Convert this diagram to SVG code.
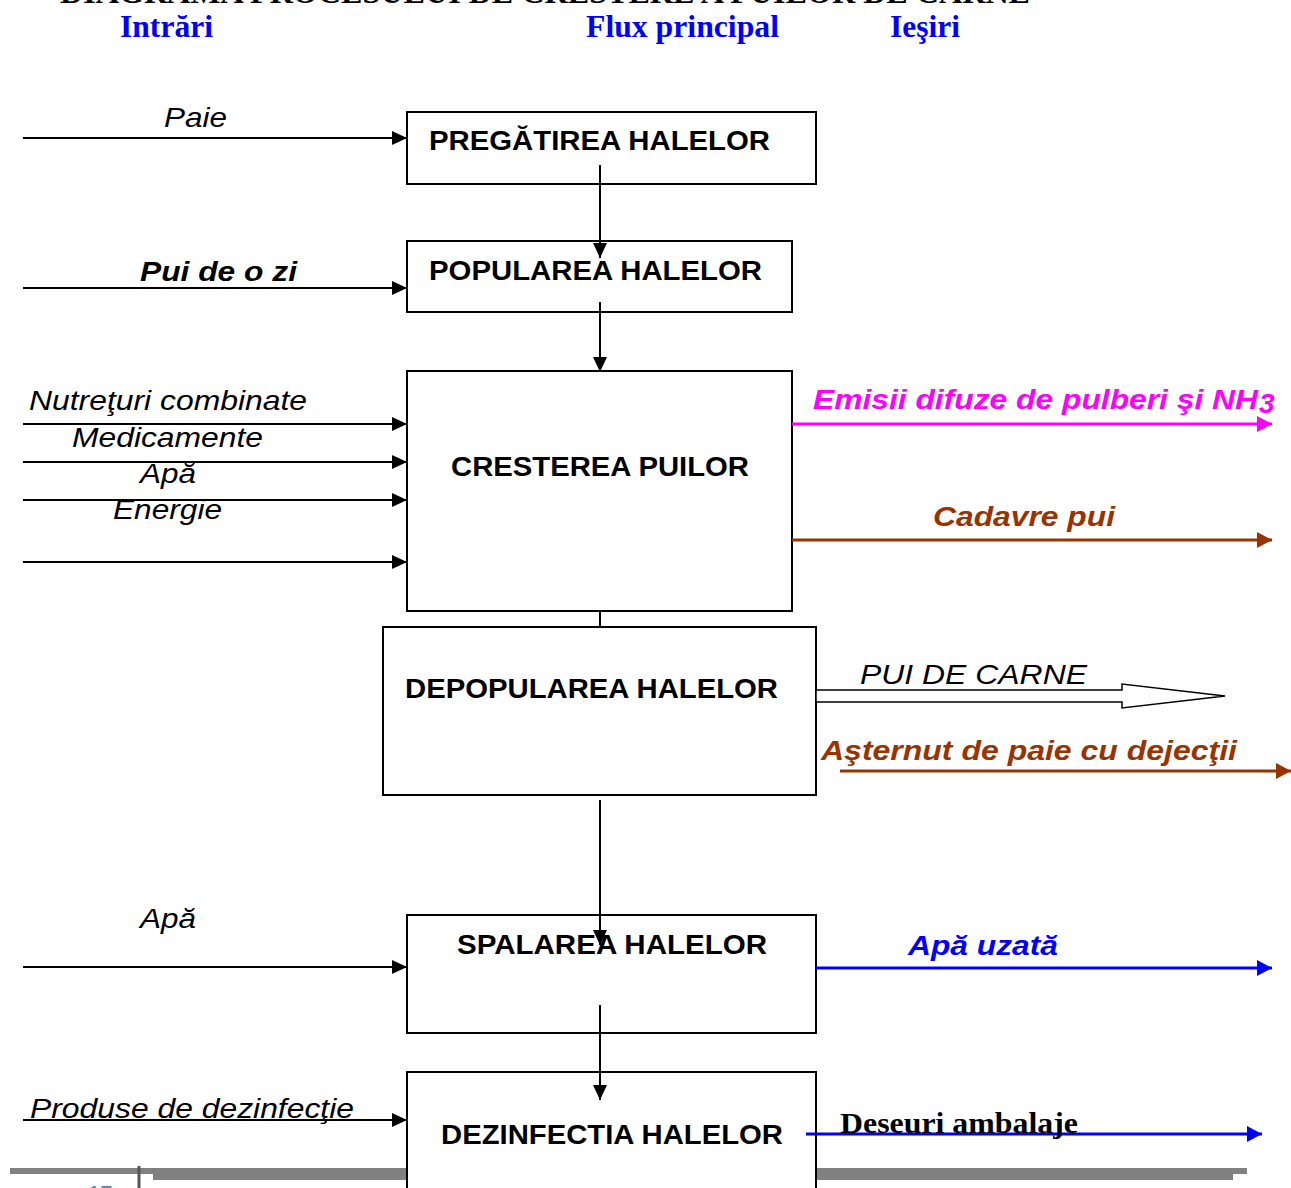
<svg xmlns="http://www.w3.org/2000/svg" width="1291" height="1188" viewBox="0 0 1291 1188">
<defs>
<marker id="ah" markerUnits="userSpaceOnUse" markerWidth="16" markerHeight="16" refX="15" refY="7" orient="auto"><path d="M0,0 L15,7 L0,14 z" fill="#000"/></marker>
<marker id="ahm" markerUnits="userSpaceOnUse" markerWidth="16" markerHeight="18" refX="15" refY="8" orient="auto"><path d="M0,0 L15,8 L0,16 z" fill="#FF00FF"/></marker>
<marker id="ahr" markerUnits="userSpaceOnUse" markerWidth="16" markerHeight="18" refX="15" refY="8" orient="auto"><path d="M0,0 L15,8 L0,16 z" fill="#993300"/></marker>
<marker id="ahb" markerUnits="userSpaceOnUse" markerWidth="16" markerHeight="18" refX="15" refY="8" orient="auto"><path d="M0,0 L15,8 L0,16 z" fill="#0000FF"/></marker>
</defs>
<style>
.box{fill:#fff;stroke:#000;stroke-width:2}
.bl{font-family:"Liberation Sans",Arial,sans-serif;font-weight:bold;font-size:27px;fill:#000}
.in{font-family:"Liberation Sans",Arial,sans-serif;font-style:italic;font-size:28px;fill:#000}
.out{font-family:"Liberation Sans",Arial,sans-serif;font-style:italic;font-weight:bold;font-size:28px}
.hd{font-family:"Liberation Serif","Times New Roman",serif;font-weight:bold;font-size:32px;fill:#0000FF}
.c{stroke:#000;stroke-width:2;fill:none}
.ca{stroke:#000;stroke-width:2;fill:none;marker-end:url(#ah)}
</style>
<rect width="1291" height="1188" fill="#fff"/>
<text x="60" y="3" font-family="Liberation Serif,serif" font-weight="bold" font-size="32" textLength="970" lengthAdjust="spacingAndGlyphs">DIAGRAMA PROCESULUI DE CRESTERE A PUILOR DE CARNE</text>
<g id="headers">
<text class="hd" x="120" y="37" textLength="93" lengthAdjust="spacingAndGlyphs">Intrări</text>
<text class="hd" x="586" y="37" textLength="193" lengthAdjust="spacingAndGlyphs">Flux principal</text>
<text class="hd" x="890" y="37" textLength="70" lengthAdjust="spacingAndGlyphs">Ieşiri</text>
</g>
<g id="footer">
<rect x="10" y="1168" width="1237" height="6" fill="#808080"/>
<rect x="153" y="1174" width="1080" height="6" fill="#808080"/>
<line x1="139" y1="1166" x2="139" y2="1188" stroke="#555" stroke-width="3"/>
<text x="88" y="1201" font-family="Liberation Sans,sans-serif" font-size="22" fill="#4F81BD">17</text>
</g>
<g id="n1"><rect class="box" x="407" y="112" width="409" height="72"/><text class="bl" x="429" y="150" textLength="341" lengthAdjust="spacingAndGlyphs">PREGĂTIREA HALELOR</text></g>
<g id="n2"><rect class="box" x="407" y="241" width="385" height="71"/><text class="bl" x="429" y="280" textLength="333" lengthAdjust="spacingAndGlyphs">POPULAREA HALELOR</text></g>
<g id="n3"><rect class="box" x="407" y="371" width="385" height="240"/><text class="bl" x="451" y="476" textLength="298" lengthAdjust="spacingAndGlyphs">CRESTEREA PUILOR</text></g>
<g id="n4"><rect class="box" x="383" y="627" width="433" height="168"/><text class="bl" x="405" y="698" textLength="373" lengthAdjust="spacingAndGlyphs">DEPOPULAREA HALELOR</text></g>
<g id="n5"><rect class="box" x="407" y="915" width="409" height="118"/><text class="bl" x="457" y="954" textLength="310" lengthAdjust="spacingAndGlyphs">SPALAREA HALELOR</text></g>
<g id="n6"><rect class="box" x="407" y="1072" width="409" height="130"/><text class="bl" x="441" y="1144" textLength="342" lengthAdjust="spacingAndGlyphs">DEZINFECTIA HALELOR</text></g>
<g id="connectors">
<line class="ca" x1="600" y1="165" x2="600" y2="258"/>
<line class="ca" x1="600" y1="302" x2="600" y2="372"/>
<line class="c" x1="600" y1="611" x2="600" y2="627"/>
<line class="ca" x1="600" y1="800" x2="600" y2="945"/>
<line class="ca" x1="600" y1="1005" x2="600" y2="1100"/>
<line class="ca" x1="23" y1="138" x2="407" y2="138"/>
<line class="ca" x1="23" y1="288" x2="407" y2="288"/>
<line class="ca" x1="23" y1="424" x2="407" y2="424"/>
<line class="ca" x1="23" y1="462" x2="407" y2="462"/>
<line class="ca" x1="23" y1="500" x2="407" y2="500"/>
<line class="ca" x1="23" y1="562" x2="407" y2="562"/>
<line class="ca" x1="23" y1="967" x2="407" y2="967"/>
<line class="ca" x1="23" y1="1120" x2="407" y2="1120"/>
<line x1="792" y1="424" x2="1272" y2="424" stroke="#FF00FF" stroke-width="3" marker-end="url(#ahm)"/>
<line x1="792" y1="540" x2="1272" y2="540" stroke="#993300" stroke-width="3" marker-end="url(#ahr)"/>
<polygon points="816,690 1122,690 1122,684 1225,696 1122,708 1122,702 816,702" fill="#fff" stroke="#000" stroke-width="1.5"/>
<line x1="840" y1="771" x2="1291" y2="771" stroke="#993300" stroke-width="3" marker-end="url(#ahr)"/>
<line x1="816" y1="968" x2="1272" y2="968" stroke="#0000FF" stroke-width="3" marker-end="url(#ahb)"/>
<line x1="806" y1="1134" x2="1262" y2="1134" stroke="#0000FF" stroke-width="3" marker-end="url(#ahb)"/>
</g>
<g id="labels">
<text class="in" x="164" y="127" textLength="63" lengthAdjust="spacingAndGlyphs">Paie</text>
<text class="in" x="140" y="281" font-weight="bold" textLength="157" lengthAdjust="spacingAndGlyphs">Pui de o zi</text>
<text class="in" x="29" y="410" textLength="278" lengthAdjust="spacingAndGlyphs">Nutreţuri combinate</text>
<text class="in" x="72" y="447" textLength="191" lengthAdjust="spacingAndGlyphs">Medicamente</text>
<text class="in" x="140" y="483" textLength="56" lengthAdjust="spacingAndGlyphs">Apă</text>
<text class="in" x="113" y="519" textLength="109" lengthAdjust="spacingAndGlyphs">Energie</text>
<text class="in" x="140" y="928" textLength="56" lengthAdjust="spacingAndGlyphs">Apă</text>
<text class="in" x="30" y="1118" textLength="324" lengthAdjust="spacingAndGlyphs">Produse de dezinfecţie</text>
<text class="out" x="813" y="409" fill="#FF00FF" textLength="445" lengthAdjust="spacingAndGlyphs">Emisii difuze de pulberi şi NH</text>
<text class="out" x="1259" y="413" fill="#FF00FF" font-size="17">3</text>
<text class="out" x="933" y="526" fill="#993300" textLength="182" lengthAdjust="spacingAndGlyphs">Cadavre pui</text>
<text class="in" x="860" y="684" textLength="227" lengthAdjust="spacingAndGlyphs">PUI DE CARNE</text>
<text class="out" x="821" y="760" fill="#993300" textLength="416" lengthAdjust="spacingAndGlyphs">Aşternut de paie cu dejecţii</text>
<text class="out" x="908" y="955" fill="#0000FF" textLength="150" lengthAdjust="spacingAndGlyphs">Apă uzată</text>
<text x="840" y="1133" font-family="Liberation Serif,serif" font-weight="bold" font-size="30" fill="#000" textLength="238" lengthAdjust="spacingAndGlyphs">Deseuri ambalaje</text>
</g>
</svg>
